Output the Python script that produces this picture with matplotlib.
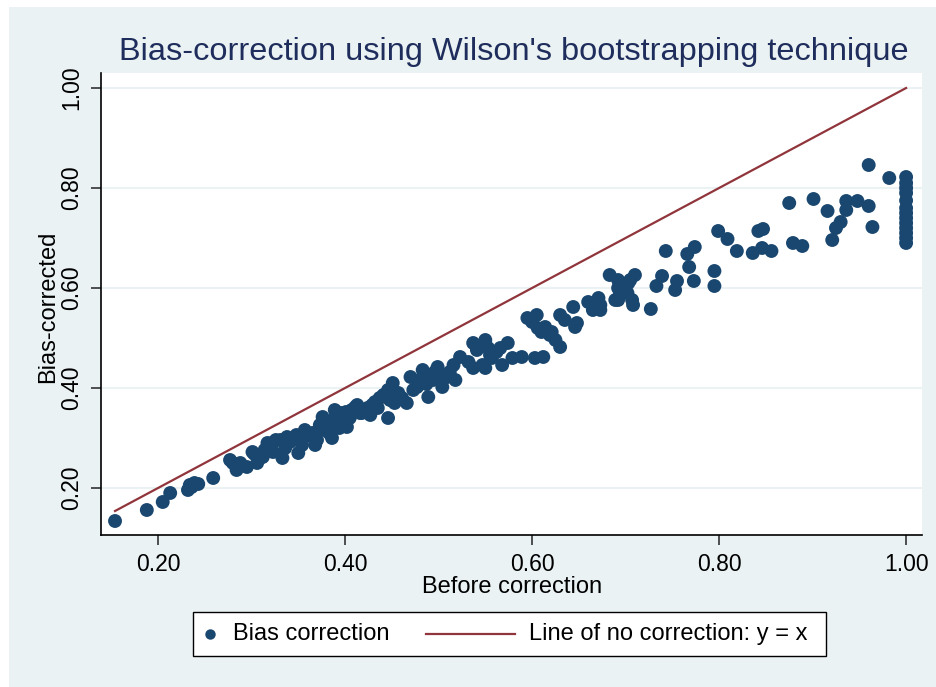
import matplotlib
matplotlib.use("Agg")
import matplotlib.pyplot as plt
from matplotlib.patches import Rectangle
from matplotlib.lines import Line2D
import numpy as np

plt.rcParams['font.family'] = ['Liberation Sans', 'DejaVu Sans']

# Before correction (x) and bias-corrected (y) estimates
before = [
    0.154, 0.188, 0.205, 0.213, 0.232, 0.234, 0.236, 0.239, 0.243, 0.259,
    0.277, 0.280, 0.284, 0.288, 0.295, 0.301, 0.306, 0.309, 0.312, 0.314,
    0.317, 0.320, 0.322, 0.323, 0.326, 0.333, 0.336, 0.338, 0.341, 0.347,
    0.350, 0.354, 0.357, 0.359, 0.365, 0.368, 0.370, 0.373, 0.376, 0.379,
    0.381, 0.383, 0.386, 0.387, 0.389, 0.391, 0.394, 0.397, 0.399, 0.402,
    0.405, 0.407, 0.411, 0.413, 0.416, 0.418, 0.424, 0.427, 0.429, 0.432,
    0.435, 0.437, 0.441, 0.446, 0.446, 0.448, 0.451, 0.453, 0.457, 0.461,
    0.466, 0.470, 0.473, 0.477, 0.480, 0.483, 0.487, 0.489, 0.492, 0.494,
    0.496, 0.499, 0.502, 0.504, 0.506, 0.509, 0.512, 0.516, 0.518, 0.523,
    0.532, 0.537, 0.537, 0.541, 0.547, 0.550, 0.550, 0.553, 0.555, 0.557,
    0.562, 0.566, 0.568, 0.574, 0.579, 0.589, 0.595, 0.600, 0.603, 0.605,
    0.606, 0.610, 0.612, 0.614, 0.619, 0.621, 0.625, 0.630, 0.630, 0.635,
    0.644, 0.646, 0.648, 0.660, 0.665, 0.671, 0.673, 0.673, 0.683, 0.689,
    0.692, 0.692, 0.692, 0.694, 0.702, 0.703, 0.705, 0.707, 0.708, 0.710,
    0.727, 0.733, 0.739, 0.743, 0.753, 0.755, 0.766, 0.768, 0.773, 0.774,
    0.795, 0.795, 0.799, 0.809, 0.819, 0.836, 0.842, 0.847, 0.846, 0.856,
    0.875, 0.879, 0.889, 0.901, 0.916, 0.921, 0.925, 0.930, 0.936, 0.936,
    0.948, 0.960, 0.960, 0.964, 0.982,
    1.000, 1.000, 1.000, 1.000, 1.000, 1.000, 1.000, 1.000, 1.000, 1.000,
    1.000, 1.000, 1.000,
    0.392, 0.396, 0.385, 0.401, 0.374, 0.362, 0.348, 0.331, 0.318, 0.303,
]
corrected = [
    0.134, 0.156, 0.172, 0.190, 0.196, 0.206, 0.202, 0.210, 0.208, 0.220,
    0.256, 0.250, 0.236, 0.250, 0.242, 0.272, 0.250, 0.260, 0.262, 0.276,
    0.290, 0.280, 0.290, 0.272, 0.296, 0.260, 0.280, 0.302, 0.292, 0.300,
    0.270, 0.286, 0.316, 0.304, 0.310, 0.286, 0.296, 0.326, 0.342, 0.316,
    0.330, 0.310, 0.300, 0.336, 0.356, 0.352, 0.320, 0.332, 0.346, 0.322,
    0.340, 0.356, 0.362, 0.366, 0.350, 0.350, 0.360, 0.346, 0.366, 0.372,
    0.360, 0.380, 0.386, 0.396, 0.340, 0.376, 0.410, 0.370, 0.390, 0.380,
    0.370, 0.422, 0.396, 0.402, 0.416, 0.436, 0.408, 0.382, 0.424, 0.416,
    0.432, 0.442, 0.426, 0.402, 0.420, 0.422, 0.432, 0.446, 0.416, 0.462,
    0.452, 0.490, 0.440, 0.476, 0.446, 0.496, 0.440, 0.480, 0.466, 0.460,
    0.472, 0.480, 0.446, 0.490, 0.460, 0.462, 0.540, 0.532, 0.460, 0.546,
    0.520, 0.512, 0.462, 0.522, 0.506, 0.512, 0.496, 0.482, 0.546, 0.536,
    0.562, 0.522, 0.530, 0.572, 0.556, 0.580, 0.566, 0.556, 0.626, 0.576,
    0.616, 0.600, 0.576, 0.590, 0.590, 0.610, 0.616, 0.576, 0.566, 0.626,
    0.558, 0.604, 0.624, 0.674, 0.596, 0.614, 0.668, 0.642, 0.614, 0.682,
    0.634, 0.604, 0.714, 0.698, 0.674, 0.670, 0.714, 0.718, 0.680, 0.674,
    0.770, 0.690, 0.684, 0.778, 0.754, 0.696, 0.720, 0.732, 0.774, 0.756,
    0.774, 0.846, 0.764, 0.722, 0.820,
    0.822, 0.810, 0.800, 0.790, 0.775, 0.760, 0.750, 0.740, 0.730, 0.720,
    0.710, 0.700, 0.690,
    0.338, 0.350, 0.328, 0.352, 0.318, 0.308, 0.306, 0.296, 0.282, 0.268,
]

xticks = [0.2, 0.4, 0.6, 0.8, 1.0]
yticks = [0.2, 0.4, 0.6, 0.8, 1.0]
title = "Bias-correction using Wilson's bootstrapping technique"
series_labels = ['Bias correction', 'Line of no correction: y = x']

navy = '#1A476F'
maroon = '#90353B'
bg = '#EAF2F3'
title_color = '#1E2D5C'

W, H = 936, 687
fig = plt.figure(figsize=(W / 100, H / 100), dpi=100, facecolor='white')
fig.patches.append(Rectangle((9 / W, 0), 1, 1 - 7 / H, transform=fig.transFigure,
                             facecolor=bg, edgecolor='none', zorder=-10))

ax = fig.add_axes([101 / W, 1 - 535 / H, (922 - 101) / W, (535 - 73) / H])
ax.set_facecolor('white')

xs = np.sort(np.array(before))
ax.plot(xs, xs, color=maroon, lw=1.6, zorder=2)
ax.scatter(before, corrected, s=100, color=navy, edgecolors='none', zorder=3)

ax.set_xlim(0.139, 1.017)
ax.set_ylim(0.106, 1.03)
ax.set_xticks(xticks)
ax.set_xticklabels([f"{v:.2f}" for v in xticks])
ax.set_yticks(yticks)
ax.set_yticklabels([f"{v:.2f}" for v in yticks], rotation=90, va='center')
ax.yaxis.grid(True, color=bg, lw=1.5, zorder=0)
ax.set_axisbelow(True)
for s in ['top', 'right']:
    ax.spines[s].set_visible(False)
for s in ['left', 'bottom']:
    ax.spines[s].set_linewidth(1.2)
    ax.spines[s].set_color('black')
ax.tick_params(axis='both', direction='out', length=7, width=1.2, color='#333333',
               labelsize=16.5, pad=6)

fig.text(512 / W, 1 - 587 / H, 'Before correction', fontsize=17, ha='center', va='center')
fig.text(48 / W, 1 - 307 / H, 'Bias-corrected', fontsize=17, ha='center', va='center',
         rotation=90)
fig.text(513.5 / W, 1 - 52 / H, title, fontsize=23.4, color=title_color, ha='center',
         va='center')

# legend (drawn by hand to match the reference layout)
fig.patches.append(Rectangle((193 / W, 1 - 656 / H), (826 - 193) / W, (656 - 612) / H,
                             transform=fig.transFigure, facecolor='white',
                             edgecolor='black', lw=1.0, zorder=5))
ly = 1 - 634 / H
fig.lines.append(Line2D([210 / W], [ly], transform=fig.transFigure, marker='o',
                        markersize=7.5, color=navy, markeredgewidth=0, zorder=6))
fig.text(233 / W, ly, series_labels[0], fontsize=17, ha='left', va='center', zorder=6)
fig.lines.append(Line2D([426 / W, 515 / W], [ly, ly], transform=fig.transFigure,
                        color=maroon, lw=1.6, zorder=6))
fig.text(529 / W, ly, series_labels[1], fontsize=17, ha='left', va='center', zorder=6)

fig.savefig('out.png', dpi=100, facecolor=fig.get_facecolor())
